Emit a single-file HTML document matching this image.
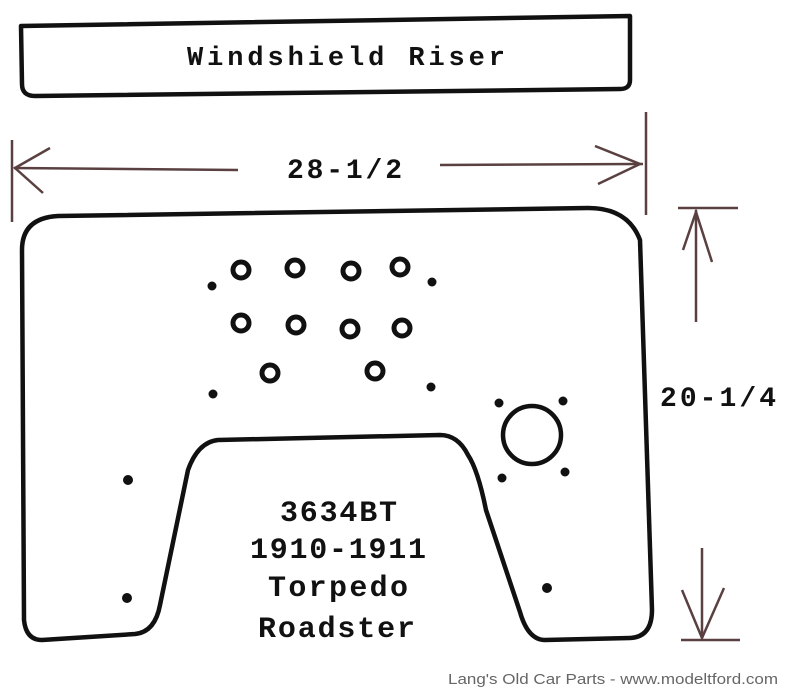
<!DOCTYPE html>
<html><head><style>
html,body{margin:0;padding:0;background:#fff;}
svg{display:block;}
.t{font-family:"Liberation Mono",monospace;font-weight:bold;fill:#111;}
</style></head><body>
<svg width="800" height="693" viewBox="0 0 800 693" xmlns="http://www.w3.org/2000/svg">
<rect width="800" height="693" fill="#fff"/>
<path d="M21,26 L630,16 L630,80 Q630,89 620,89 L35,96 Q22,96 22,84 Z" fill="none" stroke="#111" stroke-width="4.5" stroke-linejoin="round"/>
<text class="t" x="187" y="65" font-size="27" textLength="318" lengthAdjust="spacing">Windshield Riser</text>
<g stroke="#5a4040" stroke-width="2.5" fill="none">
<line x1="12" y1="140" x2="12" y2="222"/>
<line x1="646" y1="112" x2="646" y2="215"/>
<line x1="14" y1="168" x2="238" y2="170"/>
<line x1="440" y1="165" x2="643" y2="164"/>
<polyline points="50,148 15,168 43,193"/>
<polyline points="595,146 640,164 598,184"/>
<line x1="678" y1="208" x2="738" y2="208"/>
<line x1="696" y1="210" x2="696" y2="322"/>
<polyline points="683,250 696,212 712,262"/>
<line x1="681" y1="640" x2="740" y2="640"/>
<line x1="702" y1="548" x2="702" y2="638"/>
<polyline points="682,590 702,638 724,588"/>
</g>
<text class="t" x="287" y="178" font-size="28" textLength="115" lengthAdjust="spacing">28-1/2</text>
<text class="t" x="660" y="406" font-size="28" textLength="116" lengthAdjust="spacing">20-1/4</text>
<path d="M22,250 Q22,218 58,216 L588,208 Q628,208 640,240 L652,610 Q652,637 630,638 L545,640 Q528,640 520,612 L486,510 Q478,470 468,455 Q458,435 440,435 L218,440 Q198,442 188,470 L160,605 Q155,632 135,634 L42,640 Q26,640 24,620 Z" fill="none" stroke="#111" stroke-width="4.5" stroke-linejoin="round"/>
<g fill="none" stroke="#111" stroke-width="5">
<circle cx="241" cy="270" r="8"/><circle cx="295" cy="268" r="8"/><circle cx="351" cy="271" r="8"/><circle cx="400" cy="267" r="8"/>
<circle cx="241" cy="323" r="8"/><circle cx="296" cy="325" r="8"/><circle cx="350" cy="329" r="8"/><circle cx="402" cy="328" r="8"/>
<circle cx="270" cy="373" r="8"/><circle cx="375" cy="371" r="8"/>
</g>
<circle cx="532" cy="435" r="29" fill="none" stroke="#111" stroke-width="4.5"/>
<g fill="#111">
<circle cx="212" cy="286" r="4.5"/><circle cx="432" cy="282" r="4.5"/>
<circle cx="213" cy="394" r="4.5"/><circle cx="431" cy="387" r="4.5"/>
<circle cx="128" cy="480" r="5"/><circle cx="127" cy="598" r="5"/><circle cx="547" cy="588" r="5"/>
<circle cx="499" cy="403" r="4.5"/><circle cx="563" cy="401" r="4.5"/>
<circle cx="502" cy="478" r="4.5"/><circle cx="565" cy="472" r="4.5"/>
</g>
<g class="t" font-size="30">
<text x="280" y="521" textLength="117" lengthAdjust="spacing">3634BT</text>
<text x="250" y="558" textLength="176" lengthAdjust="spacing">1910-1911</text>
<text x="268" y="596" textLength="140" lengthAdjust="spacing">Torpedo</text>
<text x="258" y="637" textLength="157" lengthAdjust="spacing">Roadster</text>
</g>
<text x="778" y="684" font-family="Liberation Sans Narrow,Liberation Sans,sans-serif" font-size="15" fill="#666" text-anchor="end" textLength="330" lengthAdjust="spacingAndGlyphs">Lang's Old Car Parts - www.modeltford.com</text>
</svg>
</body></html>
